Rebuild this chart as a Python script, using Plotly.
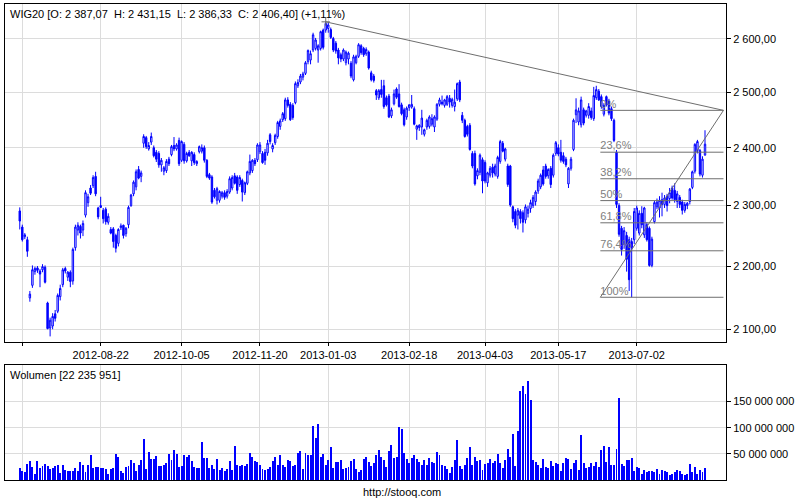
import pandas as pd
import plotly.graph_objects as go

# ---------------- data (WIG20 daily) ----------------
open_ = [2291,2264,2248,2243,2149,2169,2191,2197,2192,2194,
         2198,2141,2102,2105,2124,2128,2151,2170,2196,2182,
         2190,2176,2230,2259,2265,2259,2284,2305,2330,2334,
         2350,2296,2300,2292,2294,2272,2260,2261,2250,2237,
         2263,2267,2253,2268,2300,2320,2332,2362,2350,2408,
         2418,2398,2410,2400,2392,2390,2370,2359,2360,2380,
         2388,2404,2398,2413,2378,2406,2377,2392,2377,2388,
         2372,2393,2394,2400,2378,2353,2349,2326,2309,2309,
         2316,2322,2316,2323,2330,2351,2349,2336,2343,2322,
         2338,2356,2360,2378,2379,2393,2390,2392,2391,2423,
         2398,2409,2420,2438,2450,2452,2486,2478,2476,2481,
         2512,2519,2528,2535,2557,2560,2579,2582,2579,2582,
         2617,2617,2620,2618,2601,2592,2579,2570,2562,2555,
         2562,2554,2523,2555,2567,2587,2582,2572,2575,2536,
         2530,2503,2490,2505,2512,2490,2493,2457,2479,2506,
         2497,2477,2468,2455,2472,2473,2470,2433,2436,2437,
         2424,2437,2438,2442,2437,2451,2478,2482,2476,2478,
         2489,2476,2474,2488,2519,2458,2449,2438,2440,2390,
         2390,2351,2357,2379,2374,2339,2352,2366,2354,2350,
         2376,2408,2380,2368,2368,2298,2290,2284,2290,2288,
         2276,2287,2295,2300,2307,2325,2332,2361,2368,2351,
         2364,2352,2390,2400,2392,2386,2380,2337,2364,2397,
         2459,2446,2441,2468,2458,2458,2466,2452,2490,2502,
         2492,2460,2492,2484,2470,2449,2392,2300,2262,2235,
         2250,2243,2240,2243,2262,2254,2287,2251,2268,2262,
         2201,2273,2298,2296,2310,2302,2316,2312,2330,2326,
         2307,2314,2306,2292,2300,2307,2331,2359,2395,2395,
         2352,2387.07]
high_ = [2297,2268,2254,2248,2160,2201,2199,2200,2195,2203,
         2201,2143,2118,2125,2130,2156,2170,2197,2199,2192,
         2193,2230,2268,2272,2268,2275,2326,2320,2335,2352,
         2358,2298,2315,2296,2297,2287,2264,2264,2253,2262,
         2270,2268,2264,2300,2320,2343,2362,2368,2360,2424,
         2421,2410,2427,2404,2396,2394,2382,2368,2380,2384,
         2405,2419,2408,2418,2413,2410,2393,2396,2394,2392,
         2378,2404,2406,2404,2380,2356,2352,2330,2332,2326,
         2325,2326,2328,2350,2352,2356,2352,2352,2346,2341,
         2360,2388,2380,2382,2408,2410,2394,2398,2414,2426,
         2408,2425,2448,2452,2464,2490,2491,2482,2480,2520,
         2524,2534,2538,2558,2580,2578,2612,2602,2590,2616,
         2620,2633,2631,2622,2604,2596,2583,2574,2582,2578,
         2576,2558,2570,2570,2592,2590,2585,2584,2578,2540,
         2534,2506,2506,2523,2523,2494,2497,2472,2505,2509,
         2515,2481,2472,2474,2478,2495,2474,2441,2442,2468,
         2434,2452,2458,2460,2458,2480,2490,2494,2488,2495,
         2495,2490,2505,2518,2523,2464,2452,2441,2444,2394,
         2395,2364,2390,2383,2378,2358,2368,2372,2372,2386,
         2414,2412,2400,2372,2370,2300,2294,2296,2294,2292,
         2302,2300,2310,2318,2326,2346,2355,2368,2372,2364,
         2368,2390,2412,2406,2414,2392,2384,2366,2384,2452,
         2489,2472,2492,2472,2468,2480,2472,2510,2512,2506,
         2496,2480,2494,2488,2474,2452,2396,2304,2266,2264,
         2256,2248,2246,2296,2300,2292,2299,2298,2272,2265,
         2248,2308,2312,2316,2322,2318,2320,2330,2334,2338,
         2325,2318,2310,2306,2306,2330,2360,2408,2414,2398,
         2385,2431.15]
low_ = [2260,2240,2244,2215,2143,2165,2186,2189,2166,2190,
        2172,2100,2089,2100,2112,2125,2145,2166,2188,2176,
        2166,2170,2225,2250,2245,2249,2280,2298,2318,2330,
        2316,2277,2296,2270,2268,2268,2252,2230,2222,2232,
        2259,2245,2248,2262,2298,2316,2326,2345,2340,2400,
        2398,2395,2405,2383,2375,2365,2358,2352,2356,2368,
        2385,2394,2395,2368,2375,2372,2374,2384,2368,2370,
        2368,2390,2390,2374,2347,2344,2303,2312,2302,2305,
        2312,2310,2312,2320,2326,2336,2320,2332,2307,2318,
        2335,2352,2356,2368,2375,2389,2372,2370,2386,2406,
        2392,2405,2416,2432,2446,2448,2472,2448,2450,2478,
        2508,2515,2522,2532,2552,2552,2575,2578,2555,2578,
        2580,2612,2612,2600,2575,2572,2552,2556,2558,2550,
        2552,2526,2520,2552,2564,2570,2566,2568,2542,2520,
        2518,2486,2486,2490,2470,2474,2453,2453,2476,2488,
        2472,2458,2438,2450,2466,2470,2440,2414,2430,2423,
        2420,2432,2434,2438,2428,2448,2474,2476,2472,2475,
        2472,2472,2465,2484,2482,2444,2418,2420,2395,2364,
        2334,2345,2352,2321,2338,2332,2348,2348,2350,2346,
        2372,2392,2376,2332,2298,2272,2262,2260,2270,2255,
        2270,2280,2288,2296,2300,2320,2328,2334,2346,2346,
        2330,2348,2386,2385,2374,2372,2366,2330,2360,2394,
        2444,2440,2436,2440,2454,2452,2450,2448,2486,2484,
        2470,2456,2474,2458,2448,2410,2296,2248,2217,2228,
        2191,2160,2150,2236,2258,2250,2262,2246,2240,2199,
        2198,2270,2294,2280,2282,2296,2290,2304,2310,2305,
        2296,2296,2285,2288,2294,2302,2328,2355,2390,2350,
        2348,2386.33]
close_ = [2274,2243,2251,2224,2155,2194,2196,2193,2187,2199,
          2174,2101,2114,2120,2117,2153,2164,2194,2192,2190,
          2175,2227,2264,2267,2254,2270,2322,2315,2321,2348,
          2320,2281,2297,2278,2273,2282,2254,2240,2229,2260,
          2266,2250,2262,2297,2318,2340,2358,2347,2356,2420,
          2402,2404,2420,2386,2380,2370,2378,2365,2376,2372,
          2402,2398,2405,2372,2411,2377,2390,2386,2392,2374,
          2376,2402,2400,2378,2350,2347,2306,2315,2329,2324,
          2322,2314,2324,2346,2348,2338,2326,2348,2323,2339,
          2358,2376,2378,2372,2405,2405,2374,2378,2408,2411,
          2404,2422,2445,2448,2461,2486,2476,2450,2454,2516,
          2518,2530,2534,2555,2578,2572,2608,2598,2587,2614,
          2584,2630,2627,2603,2579,2577,2564,2562,2579,2575,
          2573,2530,2566,2567,2589,2574,2570,2580,2545,2523,
          2522,2495,2503,2496,2474,2477,2455,2468,2497,2491,
          2474,2461,2441,2471,2477,2478,2442,2439,2440,2453,
          2432,2449,2455,2452,2455,2478,2486,2479,2486,2492,
          2482,2487,2482,2516,2486,2449,2420,2424,2397,2368,
          2337,2360,2387,2342,2342,2356,2364,2356,2368,2383,
          2411,2394,2398,2336,2301,2278,2267,2292,2278,2272,
          2298,2294,2305,2314,2323,2342,2352,2337,2350,2362,
          2336,2387,2409,2389,2378,2376,2370,2364,2380,2449,
          2468,2466,2486,2444,2466,2474,2454,2494,2505,2486,
          2474,2476,2477,2462,2452,2413,2302,2252,2227,2258,
          2211,2178,2230,2290,2296,2287,2268,2296,2243,2201,
          2244,2305,2306,2309,2302,2313,2300,2322,2313,2310,
          2320,2302,2292,2302,2304,2328,2358,2406,2411,2354,
          2380,2406.40]
volume_mln = [23.6,17.2,15.9,30.6,37.0,25.5,11.5,37.0,23.6,26.8,
              30.6,26.8,21.7,23.6,26.8,28.7,14.0,28.7,19.1,17.2,
              17.2,17.2,23.6,17.2,34.4,29.3,15.9,29.3,47.8,23.6,
              25.5,25.5,23.6,23.6,21.7,11.5,21.7,23.6,49.7,44.6,
              17.2,14.0,25.5,26.8,38.9,33.2,17.9,29.3,38.9,78.4,
              21.7,53.6,40.2,40.2,45.9,26.8,26.8,29.3,33.2,49.7,
              38.9,58.0,49.7,25.5,26.8,47.8,44.6,47.8,37.0,25.5,
              23.6,23.6,73.3,42.1,42.1,23.6,29.3,21.7,40.2,19.1,
              23.6,17.2,21.7,37.0,19.1,65.0,29.3,26.8,28.1,26.8,
              30.6,51.7,44.6,37.0,34.4,29.3,21.7,19.1,21.7,25.5,
              37.0,44.6,29.3,47.8,29.3,25.5,38.9,37.0,26.8,29.3,
              51.7,56.1,21.7,51.7,47.8,47.8,103.3,80.3,107.1,44.6,
              49.7,29.3,38.9,63.1,23.6,34.4,34.4,38.9,21.7,23.6,
              25.5,37.0,40.2,21.7,15.9,19.1,40.2,44.6,34.4,26.8,
              33.2,47.8,58.0,44.6,38.9,25.5,56.1,67.0,42.1,44.6,
              101.4,98.2,
              51.0,40.2,32.5,42.1,47.8,40.2,34.4,29.3,38.3,29.3,
              42.1,34.4,32.5,53.6,47.8,29.3,26.8,21.0,14.0,24.2,
              38.3,76.5,26.8,21.0,28.7,42.1,63.1,28.7,44.0,37.0,
              38.3,19.1,30.6,32.5,40.2,32.5,36.3,49.7,32.5,23.0,
              38.3,59.3,44.0,88.0,26.8,93.7,170.3,179.8,164.5,189.4,
              153.0,38.3,34.4,28.7,23.0,40.2,24.9,23.0,36.3,26.8,
              32.5,30.6,17.2,32.5,42.1,40.2,21.0,32.5,38.3,19.1,
              86.1,32.5,23.0,24.9,32.5,26.8,34.4,24.9,57.4,65.0,
              34.4,63.1,28.7,28.7,59.3,156.9,30.6,26.8,38.3,38.3,
              42.1,17.2,24.9,23.0,11.5,19.1,15.3,17.2,17.2,15.3,
              21.0,11.5,19.1,17.2,15.3,9.6,11.5,15.3,19.1,17.2,
              11.5,9.6,11.5,30.6,15.3,24.9,11.5,19.1,15.3,22.235951]

# GPW non-trading weekdays in the period
holidays = ['2012-08-15', '2012-11-01', '2012-12-24', '2012-12-25', '2012-12-26',
            '2012-12-31', '2013-01-01', '2013-03-29', '2013-04-01', '2013-05-01',
            '2013-05-02', '2013-05-03', '2013-05-30']

tick_dates = ['2012-07-09', '2012-08-22', '2012-10-05', '2012-11-20', '2013-01-03',
              '2013-02-18', '2013-04-03', '2013-05-17', '2013-07-02']
tick_labels = ['', '2012-08-22', '2012-10-05', '2012-11-20', '2013-01-03',
               '2013-02-18', '2013-04-03', '2013-05-17', '2013-07-02']
price_ticks = [2100, 2200, 2300, 2400, 2500, 2600]
price_tick_labels = ['2 100,00', '2 200,00', '2 300,00', '2 400,00', '2 500,00', '2 600,00']
vol_ticks = [50, 100, 150]
vol_tick_labels = ['50 000 000', '100 000 000', '150 000 000']

# Fibonacci retracement drawing (anchors: low / high, drawn over trading-day index span)
fib_low, fib_high = 2150, 2467
fib_span = [229.6, 278.3]
fib_ratios = [0.0, 0.236, 0.382, 0.5, 0.618, 0.764, 1.0]
fib_labels = ['0%', '23,6%', '38,2%', '50%', '61,8%', '76,4%', '100%']

title_text = 'WIG20 [O: 2 387,07\u00a0\u00a0H: 2 431,15\u00a0\u00a0L: 2 386,33\u00a0\u00a0C: 2 406,40] (+1,11%)'
volume_text = 'Wolumen [22 235 951]'

# ---------------- build ----------------
dates = pd.bdate_range('2012-07-06', periods=len(close_), freq='C',
                       holidays=holidays).strftime('%Y-%m-%d').tolist()
xpos = list(range(len(dates)))
tickvals = [dates.index(d) for d in tick_dates]

BLUE = '#0000ff'
GRID = '#dcdcdc'
DRAW = '#6e6e6e'
FONT = 'Liberation Sans, Arial, sans-serif'

fig = go.Figure()

fig.add_trace(go.Candlestick(
    x=xpos, open=open_, high=high_, low=low_, close=close_,
    text=dates, hoverinfo='text+y',
    increasing=dict(line=dict(color=BLUE, width=1), fillcolor='white'),
    decreasing=dict(line=dict(color=BLUE, width=1), fillcolor=BLUE),
    whiskerwidth=0, xaxis='x', yaxis='y', showlegend=False))

fig.add_trace(go.Bar(
    x=xpos, y=volume_mln, width=0.38, marker=dict(color=BLUE, line=dict(width=0)),
    xaxis='x2', yaxis='y2', showlegend=False, hoverinfo='skip'))

# trend line from the top of the peak to the fib high anchor
peak_i = max(range(len(high_)), key=lambda k: high_[k])
fig.add_trace(go.Scatter(x=[peak_i, fib_span[1]], y=[high_[peak_i], fib_high],
                         mode='lines', line=dict(color=DRAW, width=1),
                         xaxis='x', yaxis='y', hoverinfo='skip', showlegend=False))
fig.add_trace(go.Scatter(x=[peak_i], y=[high_[peak_i]], mode='markers',
                         marker=dict(symbol='cross-thin', size=6, line=dict(color=DRAW, width=1)),
                         xaxis='x', yaxis='y', hoverinfo='skip', showlegend=False))

# fibonacci diagonal
fig.add_trace(go.Scatter(x=fib_span, y=[fib_low, fib_high], mode='lines',
                         line=dict(color=DRAW, width=1), xaxis='x', yaxis='y',
                         hoverinfo='skip', showlegend=False))
# fibonacci levels
for r, lab in zip(fib_ratios, fib_labels):
    lvl = fib_high - r * (fib_high - fib_low)
    fig.add_trace(go.Scatter(x=fib_span, y=[lvl, lvl], mode='lines',
                             line=dict(color=DRAW, width=1), xaxis='x', yaxis='y',
                             hoverinfo='skip', showlegend=False))
    fig.add_trace(go.Scatter(x=[fib_span[0]], y=[lvl], mode='text', text=[lab],
                             textposition='top right',
                             textfont=dict(family=FONT, size=11, color='#808080'),
                             xaxis='x', yaxis='y', hoverinfo='skip', showlegend=False))

axis_common = dict(showline=True, mirror=True, linecolor='black', linewidth=1,
                   zeroline=False, showgrid=True, gridcolor=GRID, gridwidth=1)

PLOT_TOP, PLOT_BOTTOM = 4, 480
H = PLOT_BOTTOM - PLOT_TOP
price_bottom_px, vol_top_px = 342, 365

fig.update_layout(
    width=800, height=500,
    margin=dict(l=5, r=74, t=PLOT_TOP, b=500 - PLOT_BOTTOM),
    paper_bgcolor='white', plot_bgcolor='white',
    font=dict(family=FONT, size=11, color='black'),
    showlegend=False, boxgap=0.2, bargap=0,
    xaxis=dict(domain=[0, 1], anchor='y', range=[-5.84, 279.3],
               tickmode='array', tickvals=tickvals, ticktext=tick_labels,
               ticks='outside', ticklen=3, tickcolor='black',
               tickfont=dict(size=11, color='black'),
               rangeslider=dict(visible=False), **axis_common),
    yaxis=dict(domain=[(PLOT_BOTTOM - price_bottom_px) / H, 1], anchor='x',
               type='log', range=[3.31815, 3.42615], side='right',
               tickmode='array', tickvals=price_ticks, ticktext=price_tick_labels,
               ticks='outside', ticklen=4, tickcolor='black',
               tickfont=dict(size=11, color='black'), **axis_common),
    xaxis2=dict(domain=[0, 1], anchor='y2', matches='x',
                tickmode='array', tickvals=tickvals, ticktext=tick_labels,
                showticklabels=False, ticks='', **axis_common),
    yaxis2=dict(domain=[0, (PLOT_BOTTOM - vol_top_px) / H], anchor='x2',
                range=[0, 220], side='right',
                tickmode='array', tickvals=vol_ticks, ticktext=vol_tick_labels,
                ticks='outside', ticklen=4, tickcolor='black',
                tickfont=dict(size=11, color='black'), **axis_common),
    annotations=[
        dict(text=title_text, xref='paper', yref='paper', x=(8 - 5) / 721,
             y=(PLOT_BOTTOM - 6) / H, xanchor='left', yanchor='top', showarrow=False,
             font=dict(family=FONT, size=11, color='black')),
        dict(text=volume_text, xref='paper', yref='paper', x=(8 - 5) / 721,
             y=(PLOT_BOTTOM - 367) / H, xanchor='left', yanchor='top', showarrow=False,
             font=dict(family=FONT, size=11, color='black')),
        dict(text='http://stooq.com', xref='paper', yref='paper', x=(401.5 - 5) / 721,
             y=(PLOT_BOTTOM - 492) / H, xanchor='center', yanchor='middle', showarrow=False,
             font=dict(family=FONT, size=11, color='black')),
    ],
)

# the page's default 8px body margin would shift the 800x500 figure; remove it
fig.write_html('out.html', config={'displayModeBar': False},
               post_script="document.body.style.margin='0';document.body.style.overflow='hidden';")
